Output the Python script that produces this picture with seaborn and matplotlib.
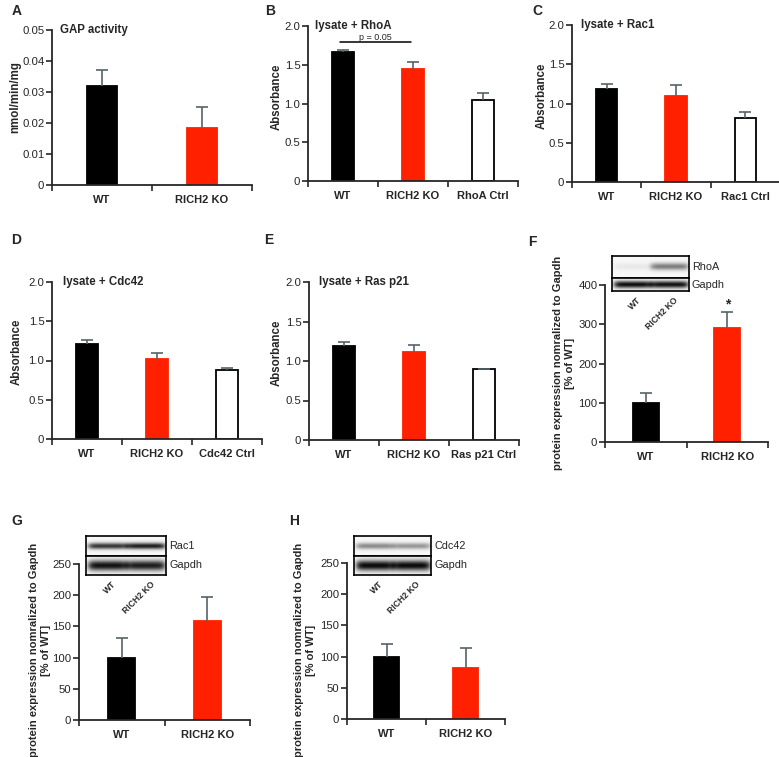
"""Multi-panel bar chart figure: RICH2 GAP activity and Rho GTPase levels."""

import numpy as np
import matplotlib
matplotlib.use("Agg")
import matplotlib.pyplot as plt
import seaborn as sns

W, H = 779, 757

WT_COLOR = '#000000'
KO_COLOR = '#ff2000'
CTRL_COLOR = '#ffffff'
ERR_COLOR = '#56646a'

# --- data -------------------------------------------------------------
gap_groups = ['WT', 'RICH2 KO']
gap_mean = [0.032, 0.0183]
gap_err = [0.0051, 0.0069]

rhoa_groups = ['WT', 'RICH2 KO', 'RhoA Ctrl']
rhoa_mean = [1.66, 1.445, 1.045]
rhoa_err = [0.03, 0.085, 0.085]

rac1_groups = ['WT', 'RICH2 KO', 'Rac1 Ctrl']
rac1_mean = [1.18, 1.09, 0.815]
rac1_err = [0.065, 0.15, 0.08]

cdc42_groups = ['WT', 'RICH2 KO', 'Cdc42 Ctrl']
cdc42_mean = [1.21, 1.015, 0.885]
cdc42_err = [0.045, 0.08, 0.015]

ras_groups = ['WT', 'RICH2 KO', 'Ras p21 Ctrl']
ras_mean = [1.185, 1.11, 0.895]
ras_err = [0.055, 0.095, 0.01]

prot_groups = ['WT', 'RICH2 KO']
rhoa_expr = [100, 290]
rhoa_expr_err = [26, 40]
rac1_expr = [100, 159]
rac1_expr_err = [31, 38]
cdc42_expr = [100, 82]
cdc42_expr_err = [20, 31]

absorb_ticks = [0, 0.5, 1.0, 1.5, 2.0]
absorb_labels = ['0', '0.5', '1.0', '1.5', '2.0']
gap_ticks = [0, 0.01, 0.02, 0.03, 0.04, 0.05]
gap_labels = ['0', '0.01', '0.02', '0.03', '0.04', '0.05']
expr_f_ticks = [0, 100, 200, 300, 400]
expr_gh_ticks = [0, 50, 100, 150, 200, 250]

# band strength per lane (WT, RICH2 KO) for the western blot insets
blot_f = {'RhoA': [0.06, 0.5], 'Gapdh': [0.97, 0.95]}
blot_g = {'Rac1': [0.8, 0.9], 'Gapdh': [0.95, 0.9]}
blot_h = {'Cdc42': [0.45, 0.4], 'Gapdh': [0.98, 0.98]}

sns.set_style('ticks')
plt.rcParams['font.family'] = ['Liberation Sans', 'DejaVu Sans']
plt.rcParams['axes.linewidth'] = 1.3


def px_axes(fig, x0, y0, x1, y1):
    """Adds axes given pixel box (top-left origin)."""
    return fig.add_axes([x0 / W, 1 - y1 / H, (x1 - x0) / W, (y1 - y0) / H])


def bar_panel(ax, groups, means, errs, ymax, yticks, ylabels, width):
    n = len(groups)
    colors = [WT_COLOR, KO_COLOR, CTRL_COLOR][:n]
    edges = ['#000000', KO_COLOR, '#000000'][:n]
    sns.barplot(x=groups, y=means, hue=groups, palette=colors, width=width,
                saturation=1, errorbar=None, legend=False, ax=ax)
    for patch, ec in zip(ax.patches, edges):
        patch.set_edgecolor(ec)
        patch.set_linewidth(1.3)
    eb = ax.errorbar(range(n), means, yerr=[np.zeros(n), errs], fmt='none',
                     ecolor=ERR_COLOR, elinewidth=1.2, capsize=4.5,
                     capthick=1.2, zorder=3)
    eb[1][0].set_visible(False)  # hide the lower caps, keep one-sided bars
    ax.set_xlim(-0.5, n - 0.5)
    ax.set_ylim(0, ymax)
    ax.set_yticks(yticks)
    ax.set_yticklabels(ylabels, fontsize=8.2)
    ax.set_xticks(range(n))
    ax.set_xticklabels(groups, fontsize=8, fontweight='bold')
    ax.set_xticks(np.arange(n + 1) - 0.5, minor=True)
    ax.tick_params(axis='x', which='major', length=0, pad=7)
    ax.tick_params(axis='x', which='minor', length=4, width=1.2)
    ax.tick_params(axis='y', length=4, width=1.2, pad=1.5)
    ax.set_xlabel('')
    ax.set_ylabel('')
    sns.despine(ax=ax)


def title(ax, text, dx=8):
    ax.annotate(text, xy=(0, 1), xycoords='axes fraction', xytext=(dx, 0),
                textcoords='offset pixels', ha='left', va='center',
                fontsize=8.3, fontweight='bold')


def fig_text(fig, x, y, text, **kw):
    fig.text(x / W, 1 - y / H, text, **kw)


def blot(fig, box, rows, row_split):
    """Draws a simple two-row western blot inset. box = (x0, y0, x1, y1)."""
    x0, y0, x1, y1 = box
    edges = [(y0, row_split), (row_split, y1)]
    for i, ((name, lanes), (ra, rb)) in enumerate(zip(rows.items(), edges)):
        bx = px_axes(fig, x0, ra, x1, rb)
        yy, xx = np.mgrid[0:1:40j, 0:1:120j]
        img = np.ones_like(xx) * 0.97
        sigma = 0.28 if name == 'Gapdh' else 0.16
        for j, s in enumerate(lanes):
            xc = 0.27 + 0.48 * j
            lane = np.exp(-((xx - xc) / 0.25) ** 8)
            band = np.exp(-((yy - 0.5) / sigma) ** 2)
            img -= s * 0.95 * lane * band
        bx.imshow(img, cmap='gray', vmin=0, vmax=1, aspect='auto',
                  interpolation='bilinear')
        bx.set_xticks([])
        bx.set_yticks([])
        for sp in bx.spines.values():
            sp.set_visible(True)
            sp.set_linewidth(1.2)
            sp.set_color('black')
        fig_text(fig, x1 + 3, (ra + rb) / 2, name, fontsize=7.8,
                 ha='left', va='center')
    lane_w = (x1 - x0)
    for j, lab in enumerate(prot_groups):
        xc = x0 + lane_w * (0.27 + 0.48 * j)
        fig_text(fig, xc + 4, y1 + 5, lab, fontsize=6.2, fontweight='bold',
                 rotation=45, rotation_mode='anchor', ha='right', va='top')


fig = plt.figure(figsize=(W / 100, H / 100), dpi=100)

# A
ax = px_axes(fig, 52, 30, 252, 185)
bar_panel(ax, gap_groups, gap_mean, gap_err, 0.05, gap_ticks, gap_labels, 0.3)
title(ax, 'GAP activity')
fig_text(fig, 15, 97, 'nmol/min/mg', rotation=90, ha='center', va='center',
         fontsize=8.3, fontweight='bold')

# B
ax = px_axes(fig, 308, 26, 518, 181)
bar_panel(ax, rhoa_groups, rhoa_mean, rhoa_err, 2.0, absorb_ticks, absorb_labels, 0.31)
title(ax, 'lysate + RhoA', 7)
ax.plot([-0.04, 0.97], [1.79, 1.79], color='black', lw=1.1)
ax.text(0.46, 1.8, 'p = 0.05', ha='center', va='bottom', fontsize=6.5)
fig_text(fig, 277, 97, 'Absorbance', rotation=90, ha='center', va='center',
         fontsize=8.3, fontweight='bold')

# C
ax = px_axes(fig, 572, 25, 780, 182)
bar_panel(ax, rac1_groups, rac1_mean, rac1_err, 2.0, absorb_ticks, absorb_labels, 0.31)
title(ax, 'lysate + Rac1', 9)
fig_text(fig, 542, 96, 'Absorbance', rotation=90, ha='center', va='center',
         fontsize=8.3, fontweight='bold')

# D
ax = px_axes(fig, 52, 282, 262, 439)
bar_panel(ax, cdc42_groups, cdc42_mean, cdc42_err, 2.0, absorb_ticks, absorb_labels, 0.31)
title(ax, 'lysate + Cdc42', 11)
fig_text(fig, 17, 352, 'Absorbance', rotation=90, ha='center', va='center',
         fontsize=8.3, fontweight='bold')

# E
ax = px_axes(fig, 309, 282, 519, 440)
bar_panel(ax, ras_groups, ras_mean, ras_err, 2.0, absorb_ticks, absorb_labels, 0.31)
title(ax, 'lysate + Ras p21', 10)
fig_text(fig, 277, 353, 'Absorbance', rotation=90, ha='center', va='center',
         fontsize=8.3, fontweight='bold')

expr_label = 'protein expression nomralized to Gapdh\n[% of WT]'

# F
ax = px_axes(fig, 605, 285, 768, 442)
bar_panel(ax, prot_groups, rhoa_expr, rhoa_expr_err, 400, expr_f_ticks,
          [str(t) for t in expr_f_ticks], 0.32)
ax.annotate('*', xy=(1, rhoa_expr[1] + rhoa_expr_err[1]), xytext=(0, 1),
            textcoords='offset points', ha='center', va='bottom',
            fontsize=10, fontweight='bold')
fig_text(fig, 564, 363, expr_label, rotation=90, ha='center', va='center',
         fontsize=8, fontweight='bold', linespacing=1.2, multialignment='center')
blot(fig, (612, 256, 689, 291), blot_f, 278)

# G
ax = px_axes(fig, 79, 564, 250, 720)
bar_panel(ax, prot_groups, rac1_expr, rac1_expr_err, 250, expr_gh_ticks,
          [str(t) for t in expr_gh_ticks], 0.32)
fig_text(fig, 40, 650, expr_label, rotation=90, ha='center', va='center',
         fontsize=8, fontweight='bold', linespacing=1.2, multialignment='center')
blot(fig, (86, 536, 166, 575), blot_g, 556)

# H
ax = px_axes(fig, 347, 563, 505, 719)
bar_panel(ax, prot_groups, cdc42_expr, cdc42_expr_err, 250, expr_gh_ticks,
          [str(t) for t in expr_gh_ticks], 0.32)
fig_text(fig, 305, 650, expr_label, rotation=90, ha='center', va='center',
         fontsize=8, fontweight='bold', linespacing=1.2, multialignment='center')
blot(fig, (354, 536, 431, 575), blot_h, 556)

# panel letters
for letter, (lx, ly) in {'A': (17, 11), 'B': (270, 11), 'C': (537, 11),
                         'D': (16, 240), 'E': (269, 240), 'F': (532, 242),
                         'G': (17, 521), 'H': (294, 521)}.items():
    fig_text(fig, lx, ly, letter, fontsize=10, fontweight='bold',
             ha='center', va='center')

fig.savefig('out.png', dpi=100)
